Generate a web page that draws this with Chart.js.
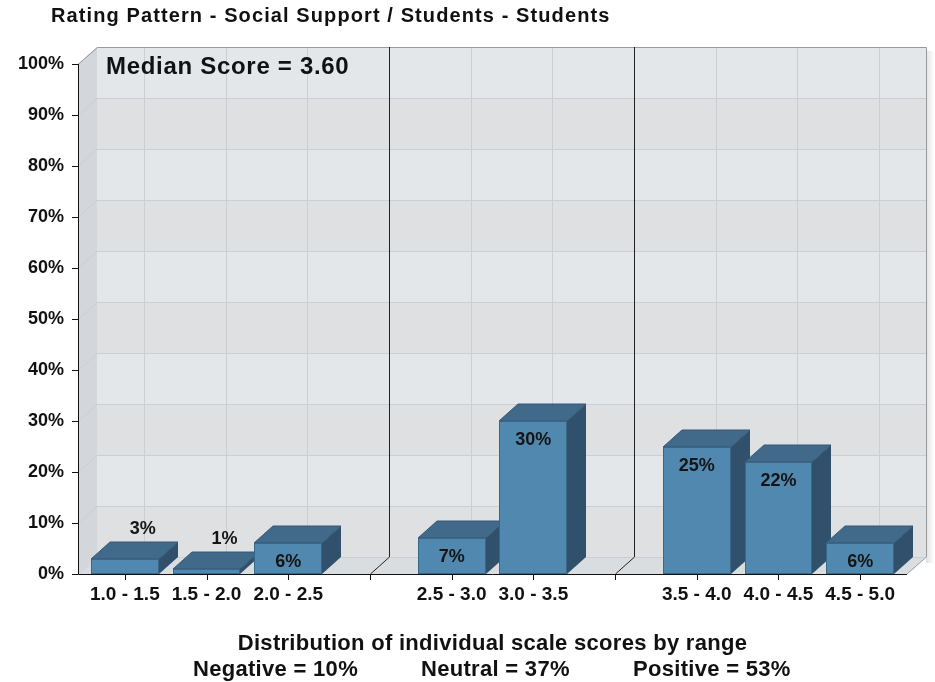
<!DOCTYPE html>
<html>
<head>
<meta charset="utf-8">
<script src="https://cdn.jsdelivr.net/npm/chart.js@4.4.1/dist/chart.umd.min.js"></script>
<style>
  html, body { margin: 0; padding: 0; background: #fff; }
  canvas { display: block; }
</style>
</head>
<body>
<canvas id="chart" width="935" height="682"></canvas>
<script>
// data
const chartTitle = 'Rating Pattern - Social Support / Students - Students';
const axisCaption = 'Distribution of individual scale scores by range';
const ranges = ['1.0 - 1.5', '1.5 - 2.0', '2.0 - 2.5', '', '2.5 - 3.0', '3.0 - 3.5', '', '3.5 - 4.0', '4.0 - 4.5', '4.5 - 5.0'];
const percents = [3, 1, 6, null, 7, 30, null, 25, 22, 6];
const separatorSlots = [3, 6];
const groupNames = ['Negative', 'Neutral', 'Positive'];
const groupSlots = [[0, 1, 2], [4, 5], [7, 8, 9]];
const medianScore = '3.60';
const yTickValues = [0, 10, 20, 30, 40, 50, 60, 70, 80, 90, 100];

const groupTotals = groupSlots.map(s => s.reduce((t, i) => t + (percents[i] || 0), 0));

const DX = 19, DY = 17;   // depth of the fake 3d
const FONT = '"Liberation Sans", Arial, Helvetica, sans-serif';

const threeD = {
  id: 'threeD',
  beforeDraw(chart) {
    const { ctx, chartArea: a, scales: { x, y } } = chart;
    const L = a.left - 6, R = a.right + 6, T = a.top, B = a.bottom;
    ctx.save();

    // shadow on right of back wall
    const g = ctx.createLinearGradient(R + DX, 0, R + DX + 8, 0);
    g.addColorStop(0, 'rgba(0,0,0,0.12)');
    g.addColorStop(1, 'rgba(0,0,0,0)');
    ctx.fillStyle = g;
    ctx.fillRect(R + DX, T - DY + 4, 8, B - T + 2);

    // back wall bands
    for (let i = 0; i < yTickValues.length - 1; i++) {
      const y0 = y.getPixelForValue(yTickValues[i]) - DY;
      const y1 = y.getPixelForValue(yTickValues[i + 1]) - DY;
      ctx.fillStyle = (i % 2 === 0) ? '#dfe0e2' : '#e4e7ea';
      ctx.fillRect(L + DX, y1, R - L, y0 - y1);
    }

    // left wall
    ctx.fillStyle = '#d3d7db';
    ctx.beginPath();
    ctx.moveTo(L, T); ctx.lineTo(L + DX, T - DY); ctx.lineTo(L + DX, B - DY); ctx.lineTo(L, B);
    ctx.closePath(); ctx.fill();

    // floor
    ctx.fillStyle = '#dadde0';
    ctx.beginPath();
    ctx.moveTo(L, B); ctx.lineTo(L + DX, B - DY); ctx.lineTo(R + DX, B - DY); ctx.lineTo(R, B);
    ctx.closePath(); ctx.fill();

    // grid lines
    ctx.strokeStyle = '#cbcfd3';
    ctx.lineWidth = 1;
    yTickValues.forEach(v => {
      const py = Math.round(y.getPixelForValue(v) - DY) + 0.5;
      ctx.beginPath();
      ctx.moveTo(L, py + DY); ctx.lineTo(L + DX, py); ctx.lineTo(R + DX, py);
      ctx.stroke();
    });
    ranges.forEach((r, i) => {
      const px = Math.round(x.getPixelForValue(i) + DX) + 0.5;
      ctx.beginPath();
      ctx.moveTo(px, T - DY); ctx.lineTo(px, B - DY);
      ctx.stroke();
    });

    // back wall outline
    ctx.strokeStyle = '#9a9a9a';
    ctx.beginPath();
    ctx.moveTo(L, T + 0.5); ctx.lineTo(L + DX + 0.5, T - DY + 0.5);
    ctx.lineTo(R + DX + 0.5, T - DY + 0.5); ctx.lineTo(R + DX + 0.5, B - DY);
    ctx.lineTo(R, B);
    ctx.stroke();

    // group separators
    ctx.strokeStyle = '#222';
    separatorSlots.forEach(i => {
      const px = Math.round(x.getPixelForValue(i)) + 0.5;
      ctx.beginPath();
      ctx.moveTo(px + DX, T - DY); ctx.lineTo(px + DX, B - DY); ctx.lineTo(px, B);
      ctx.stroke();
    });

    // texts
    ctx.fillStyle = '#111';
    ctx.textBaseline = 'alphabetic';
    ctx.textAlign = 'left';
    ctx.letterSpacing = '1.1px';
    ctx.font = 'bold 20px ' + FONT;
    ctx.fillText(chartTitle, 51, 22);

    ctx.letterSpacing = '0.7px';
    ctx.font = 'bold 24px ' + FONT;
    ctx.fillText('Median Score = ' + medianScore, L + DX + 9, T + 10);

    ctx.letterSpacing = '0.3px';
    ctx.font = 'bold 22px ' + FONT;
    ctx.textAlign = 'center';
    ctx.fillText(axisCaption, (a.left + a.right) / 2, 650);
    ctx.textAlign = 'left';
    const groupX = [193, 421, 633];
    groupNames.forEach((n, i) => {
      ctx.fillText(n + ' = ' + groupTotals[i] + '%', groupX[i], 676);
    });
    ctx.restore();
  },
  beforeDatasetDraw() {
    return false;
  },
  afterDatasetsDraw(chart) {
    const { ctx, chartArea: a, scales: { x, y } } = chart;
    const L = a.left - 6, R = a.right + 6, B = a.bottom;
    const meta = chart.getDatasetMeta(0);
    ctx.save();
    meta.data.forEach((bar, i) => {
      const v = percents[i];
      if (v == null) return;
      const x0 = Math.round(bar.x - bar.width / 2), x1 = Math.round(bar.x + bar.width / 2);
      const top = Math.round(bar.y), base = Math.round(bar.base);
      ctx.lineWidth = 1;
      // side
      ctx.fillStyle = '#31506b';
      ctx.beginPath();
      ctx.moveTo(x1, top); ctx.lineTo(x1 + DX, top - DY); ctx.lineTo(x1 + DX, base - DY); ctx.lineTo(x1, base);
      ctx.closePath(); ctx.fill();
      // top
      ctx.fillStyle = '#41698a';
      ctx.beginPath();
      ctx.moveTo(x0, top); ctx.lineTo(x0 + DX, top - DY); ctx.lineTo(x1 + DX, top - DY); ctx.lineTo(x1, top);
      ctx.closePath(); ctx.fill();
      ctx.strokeStyle = '#36597a';
      ctx.stroke();
      // front
      ctx.fillStyle = '#5088b0';
      ctx.fillRect(x0, top, x1 - x0, base - top);
      ctx.strokeStyle = '#3a6687';
      ctx.strokeRect(x0 + 0.5, top + 0.5, x1 - x0 - 1, base - top - 1);
      // value label
      ctx.fillStyle = '#151515';
      ctx.font = 'bold 18px ' + FONT;
      ctx.textAlign = 'center';
      ctx.textBaseline = 'middle';
      if (base - top > 26) ctx.fillText(v + '%', bar.x, top + 19);
      else ctx.fillText(v + '%', bar.x + 18, top - 30);
    });

    // axes
    ctx.strokeStyle = '#111';
    ctx.lineWidth = 1;
    ctx.beginPath();
    ctx.moveTo(L + 0.5, a.top); ctx.lineTo(L + 0.5, B + 0.5); ctx.lineTo(R, B + 0.5);
    ctx.stroke();
    yTickValues.forEach(v => {
      const py = Math.round(y.getPixelForValue(v)) + 0.5;
      ctx.beginPath(); ctx.moveTo(L - 6, py); ctx.lineTo(L, py); ctx.stroke();
    });
    ranges.forEach((r, i) => {
      const px = Math.round(x.getPixelForValue(i)) + 0.5;
      ctx.beginPath(); ctx.moveTo(px, B); ctx.lineTo(px, B + 6); ctx.stroke();
    });
    ctx.restore();
  }
};

new Chart(document.getElementById('chart'), {
  type: 'bar',
  data: {
    labels: ranges,
    datasets: [{
      data: percents,
      backgroundColor: '#5088b0',
      barPercentage: 0.83,
      categoryPercentage: 1
    }]
  },
  options: {
    responsive: false,
    animation: false,
    layout: { padding: { left: 0, right: 34, top: 64, bottom: 0 } },
    plugins: {
      legend: { display: false },
      tooltip: { enabled: false },
      title: { display: false }
    },
    scales: {
      y: {
        min: 0,
        max: 100,
        afterFit: s => { s.width = 84; },
        grid: { display: false },
        border: { display: false },
        ticks: {
          stepSize: 10,
          padding: 12,
          color: '#111',
          font: { family: FONT, size: 18, weight: 'bold' },
          callback: v => v + '%'
        }
      },
      x: {
        afterFit: s => { s.height = 108; },
        grid: { display: false },
        border: { display: false },
        ticks: {
          padding: 1,
          autoSkip: false,
          maxRotation: 0,
          color: '#111',
          font: { family: FONT, size: 19, weight: 'bold' }
        }
      }
    }
  },
  plugins: [threeD]
});
</script>
</body>
</html>
